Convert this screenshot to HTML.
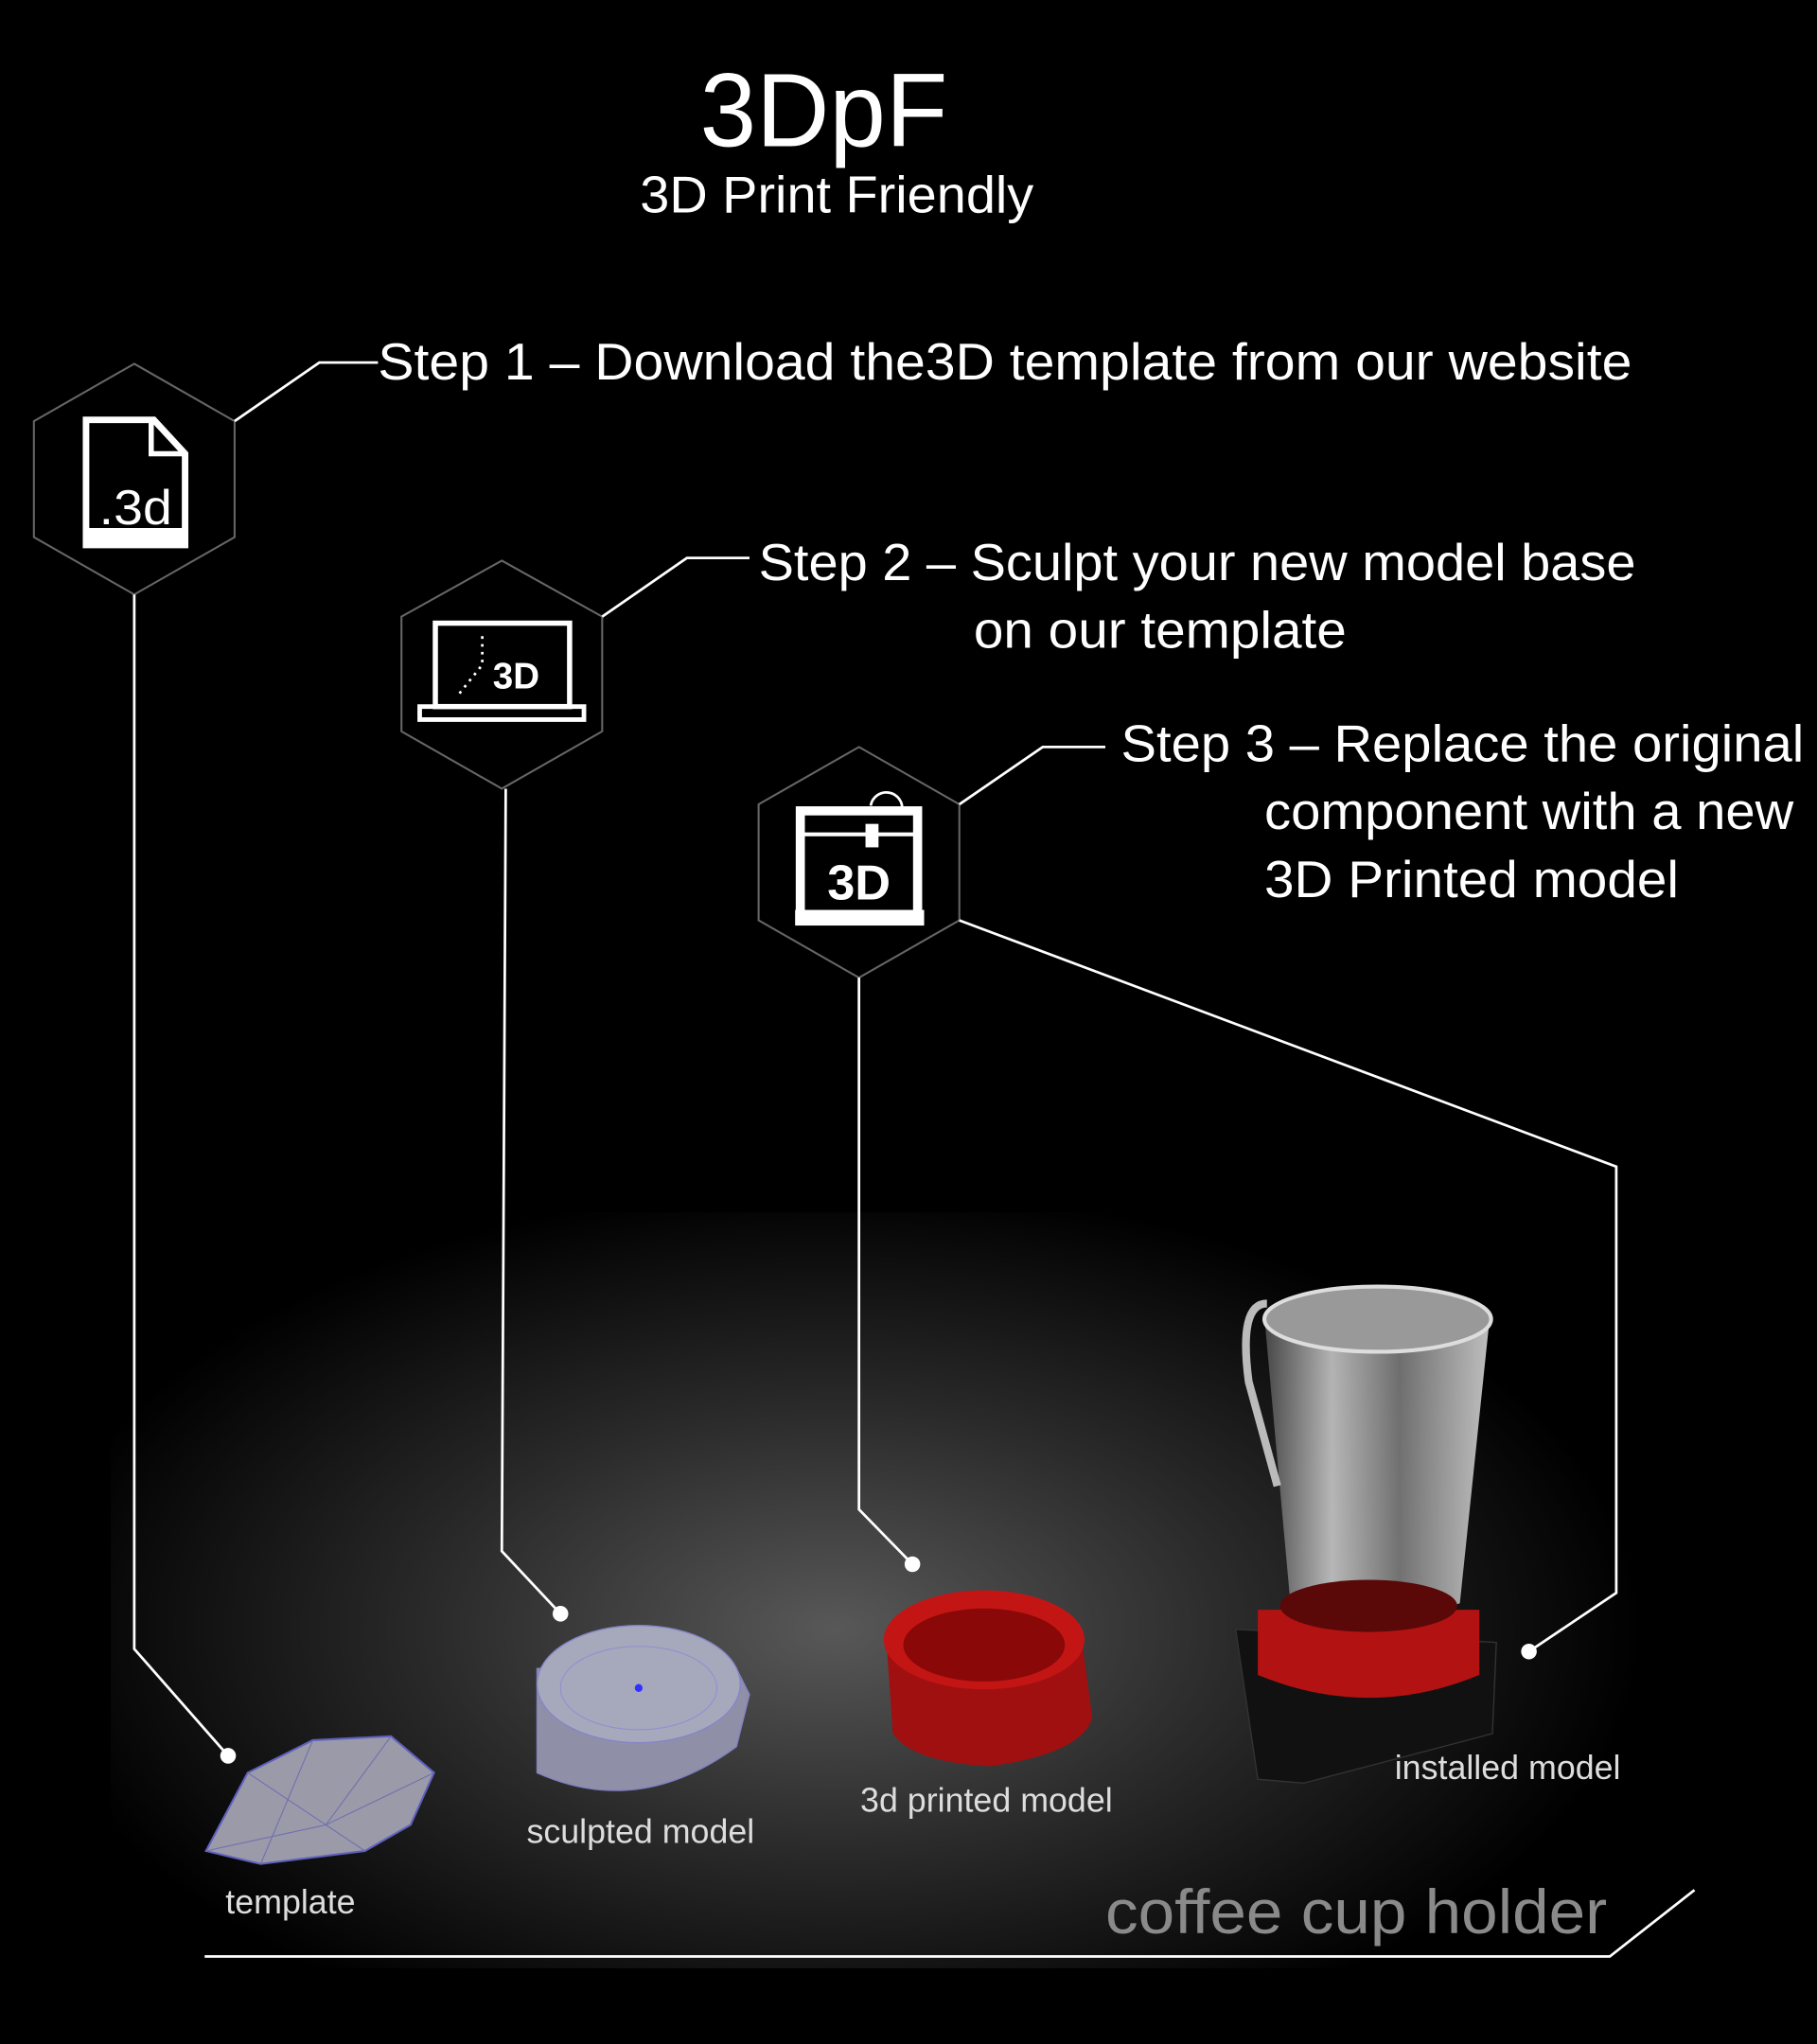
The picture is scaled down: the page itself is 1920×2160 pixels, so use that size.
<!DOCTYPE html>
<html><head><meta charset="utf-8"><style>
html,body{margin:0;padding:0;background:#000;}
svg{display:block;}
text{font-family:"Liberation Sans",sans-serif;}
</style></head><body>
<svg width="1920" height="2160" viewBox="0 0 1394 1568" xmlns="http://www.w3.org/2000/svg">
<defs>
<radialGradient id="glow" cx="640" cy="1250" r="620" gradientUnits="userSpaceOnUse" gradientTransform="translate(0,1250) scale(1,0.55) translate(0,-1250)">
<stop offset="0" stop-color="#585858"/><stop offset="0.5" stop-color="#2a2a2a"/><stop offset="1" stop-color="#000"/>
</radialGradient>
<linearGradient id="glass" x1="0" x2="1"><stop offset="0" stop-color="#555"/><stop offset="0.3" stop-color="#ddd"/><stop offset="0.6" stop-color="#888"/><stop offset="1" stop-color="#eee"/></linearGradient>
</defs>
<rect width="1394" height="1568" fill="#000"/>
<rect x="85" y="930" width="1225" height="580" fill="url(#glow)"/>

<text x="632" y="112" font-size="80" fill="#fff" text-anchor="middle" textLength="190" lengthAdjust="spacingAndGlyphs">3DpF</text>
<text x="642" y="163" font-size="40" fill="#fff" text-anchor="middle" textLength="302" lengthAdjust="spacingAndGlyphs">3D Print Friendly</text>

<g fill="none" stroke="#666" stroke-width="1.5">
<polygon points="103,279 180,323 180,412 103,456 26,412 26,323"/>
<polygon points="385,430 462,473 462,561 385,605 308,561 308,473"/>
<polygon points="659,573 736,617 736,706 659,750 582,706 582,617"/>
</g>
<g fill="none" stroke="#fff" stroke-width="2">
<polyline points="180,323 245,278 290,278"/>
<polyline points="462,473 527,428 575,428"/>
<polyline points="736,617 800,573 848,573"/>
<polyline points="103,456 103,1265 175,1347"/>
<polyline points="388,605 385,1190 430,1238"/>
<polyline points="659,750 659,1158 700,1200"/>
<polyline points="736,706 1240,895 1240,1222 1173,1267"/>
<polyline points="157,1501 1235,1501 1300,1450"/>
</g>
<g fill="#fff"><circle cx="175" cy="1347" r="6"/><circle cx="430" cy="1238" r="6"/><circle cx="700" cy="1200" r="6"/><circle cx="1173" cy="1267" r="6"/></g>

<text x="290" y="291" font-size="40" fill="#fff" textLength="962" lengthAdjust="spacingAndGlyphs">Step 1 – Download the3D template from our website</text>
<text x="582" y="445" font-size="40" fill="#fff" textLength="673" lengthAdjust="spacingAndGlyphs">Step 2 – Sculpt your new model base</text>
<text x="747" y="497" font-size="40" fill="#fff" textLength="286" lengthAdjust="spacingAndGlyphs">on our template</text>
<text x="860" y="584" font-size="40" fill="#fff" textLength="524" lengthAdjust="spacingAndGlyphs">Step 3 – Replace the original</text>
<text x="970" y="636" font-size="40" fill="#fff" textLength="406" lengthAdjust="spacingAndGlyphs">component with a new</text>
<text x="970" y="688" font-size="40" fill="#fff" textLength="318" lengthAdjust="spacingAndGlyphs">3D Printed model</text>

<!-- icon 1 file -->
<path d="M66,322 L118,322 L142,348 L142,418 L66,418 Z" fill="none" stroke="#fff" stroke-width="5"/>
<path d="M116,322 L116,348 L142,348" fill="none" stroke="#fff" stroke-width="4"/>
<rect x="66" y="405" width="76" height="13" fill="#fff"/>
<text x="104" y="402" font-size="38" fill="#fff" text-anchor="middle" textLength="56" lengthAdjust="spacingAndGlyphs">.3d</text>
<!-- icon 2 laptop -->
<rect x="334" y="478" width="103" height="64" fill="none" stroke="#fff" stroke-width="4"/>
<path d="M322,542 L448,542 L448,552 L322,552 Z" fill="none" stroke="#fff" stroke-width="3.5"/>
<path d="M370,488 L370,510 L350,535" fill="none" stroke="#fff" stroke-width="2" stroke-dasharray="2,4"/>
<text x="396" y="528" font-size="28" font-weight="bold" fill="#fff" text-anchor="middle">3D</text>
<!-- icon 3 printer -->
<rect x="614" y="622" width="90" height="82" fill="none" stroke="#fff" stroke-width="7"/>
<rect x="610" y="698" width="99" height="12" fill="#fff"/>
<line x1="614" y1="640" x2="704" y2="640" stroke="#fff" stroke-width="3"/>
<rect x="664" y="632" width="10" height="18" fill="#fff"/>
<path d="M668,618 a8,8 0 0 1 24,4" fill="none" stroke="#fff" stroke-width="2"/>
<text x="659" y="690" font-size="38" font-weight="bold" fill="#fff" text-anchor="middle">3D</text>

<!-- template object -->
<polygon points="158,1420 190,1360 240,1335 300,1332 333,1360 315,1400 280,1420 200,1430" fill="#9a9aa8" stroke="#6060c0" stroke-width="1.5"/>
<g stroke="#7070b0" stroke-width="0.8" fill="none"><path d="M190,1360 L250,1400 L300,1332 M240,1335 L200,1430 M280,1420 L250,1400 L333,1360 M158,1420 L250,1400"/></g>
<!-- sculpted -->
<path d="M412,1290 L412,1360 Q490,1395 565,1340 L575,1300 L565,1280 L412,1280 Z" fill="#8f90a8" stroke="#8080c0"/>
<ellipse cx="490" cy="1292" rx="78" ry="45" fill="#a6a8bc" stroke="#8585c8"/>
<ellipse cx="490" cy="1295" rx="60" ry="32" fill="none" stroke="#9090d0" stroke-width="0.8"/>
<circle cx="490" cy="1295" r="3" fill="#3030ff"/>
<!-- red ring -->
<path d="M680,1258 L685,1330 Q700,1352 760,1355 Q830,1345 838,1318 L830,1258 Z" fill="#a01010"/>
<ellipse cx="755" cy="1258" rx="77" ry="38" fill="#c41515"/>
<ellipse cx="755" cy="1262" rx="62" ry="28" fill="#8a0808"/>
<!-- installed -->
<path d="M948,1250 L965,1365 L1000,1368 L1145,1330 L1148,1260 Z" fill="#111" stroke="#333"/>
<path d="M965,1235 L965,1285 Q1050,1320 1135,1285 L1135,1235 Z" fill="#b31212"/>
<path d="M970,1010 L990,1230 Q1050,1255 1120,1230 L1143,1010 Z" fill="url(#glass)" opacity="0.8"/>
<ellipse cx="1057" cy="1012" rx="87" ry="25" fill="#999" stroke="#ddd" stroke-width="3"/>
<path d="M972,1000 Q950,1000 958,1060 L980,1140" fill="none" stroke="#bbb" stroke-width="6"/>
<ellipse cx="1050" cy="1232" rx="68" ry="20" fill="#5a0808"/>

<g fill="#ddd" font-size="26">
<text x="173" y="1468">template</text>
<text x="404" y="1414">sculpted model</text>
<text x="660" y="1390">3d printed model</text>
<text x="1070" y="1365">installed model</text>
</g>
<text x="848" y="1483" font-size="48" fill="#8a8a8a" textLength="385" lengthAdjust="spacingAndGlyphs">coffee cup holder</text>
</svg>
</body></html>
